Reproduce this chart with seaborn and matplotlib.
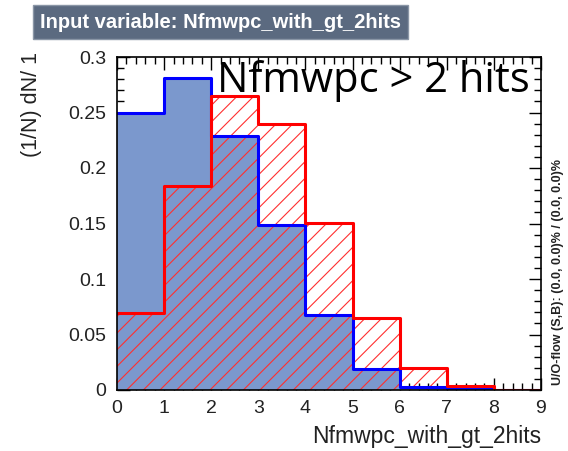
import numpy as np
import pandas as pd
import matplotlib
matplotlib.use("Agg")
import matplotlib.pyplot as plt
import seaborn as sns
from matplotlib.ticker import MultipleLocator

# Data
bin_edges = [0, 1, 2, 3, 4, 5, 6, 7, 8, 9]
bin_centers = [0.5, 1.5, 2.5, 3.5, 4.5, 5.5, 6.5, 7.5, 8.5]
signal = [0.250, 0.281, 0.229, 0.149, 0.068, 0.019, 0.003, 0.001, 0.0]
background = [0.069, 0.184, 0.265, 0.240, 0.150, 0.065, 0.020, 0.004, 0.0]
x_ticks = [0, 1, 2, 3, 4, 5, 6, 7, 8, 9]
y_ticks = [0, 0.05, 0.1, 0.15, 0.2, 0.25, 0.3]
y_tick_labels = ["0", "0.05", "0.1", "0.15", "0.2", "0.25", "0.3"]

sns.set_style("ticks")
plt.rcParams['font.family'] = ['Liberation Sans', 'DejaVu Sans']
plt.rcParams['hatch.linewidth'] = 0.8

df_s = pd.DataFrame({"x": bin_centers, "w": signal})
df_b = pd.DataFrame({"x": bin_centers, "w": background})

fig = plt.figure(figsize=(5.68, 4.51), dpi=100)
ax = fig.add_axes([117/568, 1-390/451, (541-117)/568, (390-57)/451])

# Signal: filled blue
sns.histplot(data=df_s, x="x", weights="w", bins=bin_edges, element="step",
             fill=True, color="#7b98cd", alpha=1.0, linewidth=0, ax=ax)
# Background: hatched red
sns.histplot(data=df_b, x="x", weights="w", bins=bin_edges, element="step",
             fill=True, color="red", alpha=1.0, linewidth=0, ax=ax)
colls = ax.collections
colls[1].set_facecolor("none")
colls[1].set_edgecolor("#ff3030")
colls[1].set_hatch("//")
colls[1].set_linewidth(0)

# outlines
sns.histplot(data=df_s, x="x", weights="w", bins=bin_edges, element="step",
             fill=False, color="blue", linewidth=2.2, ax=ax)
sns.histplot(data=df_b, x="x", weights="w", bins=bin_edges, element="step",
             fill=False, color="red", linewidth=2.2, ax=ax)

ax.set_xlim(0, 9)
ax.set_ylim(0, 0.3)
ax.set_xticks(x_ticks)
ax.set_yticks(y_ticks)
ax.set_yticklabels(y_tick_labels)
ax.xaxis.set_minor_locator(MultipleLocator(0.2))
ax.yaxis.set_minor_locator(MultipleLocator(0.01))
ax.tick_params(which="both", direction="in", top=True, right=True, colors="black",
               labelsize=14, labelcolor="#222222")
ax.tick_params(axis="x", which="major", pad=7)
ax.tick_params(axis="y", which="major", pad=8)
ax.tick_params(which="major", length=9, width=1)
ax.tick_params(which="minor", length=5, width=1)
for s in ax.spines.values():
    s.set_linewidth(1.2)
    s.set_color("black")
ax.set_xlabel("")
ax.set_ylabel("")

fig.text(541/568, 1-436/451, "Nfmwpc_with_gt_2hits", ha="right", va="center",
         fontsize=16.5, color="#222222")
fig.text(32/568, 1-52/451, "(1/N) dN/ 1", rotation=90, ha="center", va="top",
         fontsize=15.5, color="#222222")
fig.text(558/568, 1-272/451, "U/O-flow (S,B): (0.0, 0.0)% / (0.0, 0.0)%",
         rotation=90, ha="center", va="center", fontsize=9, fontweight="bold",
         color="#222222")

ax.text(0.974, 0.895, "Nfmwpc > 2 hits", transform=ax.transAxes, ha="right",
        va="baseline", fontsize=30, family=["Open Sans", "DejaVu Sans"], color="black")

fig.text(40/568, 1-22/451, "Input variable: Nfmwpc_with_gt_2hits", ha="left",
         va="center", fontsize=14.5, fontweight="bold", color="white",
         bbox=dict(boxstyle="square,pad=0.35", facecolor="#5b6a80",
                   edgecolor="#8a96a6", linewidth=1))

fig.savefig("out.png", dpi=100)
